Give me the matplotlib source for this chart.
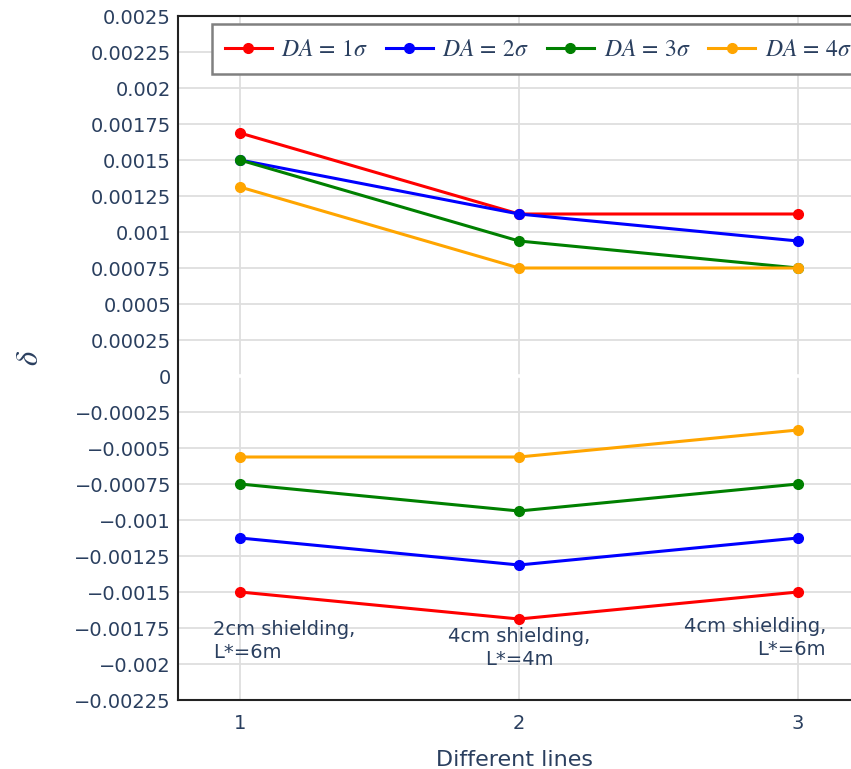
import matplotlib
matplotlib.use("Agg")
import matplotlib.pyplot as plt
from matplotlib.ticker import FixedLocator, FixedFormatter

plt.rcParams["mathtext.fontset"] = "stix"
plt.rcParams["font.family"] = ["DejaVu Sans"]

# line index on the x axis
lines_x = [1, 2, 3]

# delta bounds (upper / lower branch) for each dynamic aperture
da_labels = [r"$DA\,=\,1\sigma$", r"$DA\,=\,2\sigma$", r"$DA\,=\,3\sigma$", r"$DA\,=\,4\sigma$"]
da_colors = ["#ff0000", "#0000ff", "#008000", "#ffa500"]

upper_1 = [0.0016875, 0.001125, 0.001125]
upper_2 = [0.0015, 0.001125, 0.0009375]
upper_3 = [0.0015, 0.0009375, 0.00075]
upper_4 = [0.0013125, 0.00075, 0.00075]

lower_1 = [-0.0015, -0.0016875, -0.0015]
lower_2 = [-0.001125, -0.0013125, -0.001125]
lower_3 = [-0.00075, -0.0009375, -0.00075]
lower_4 = [-0.0005625, -0.0005625, -0.000375]

upper = [upper_1, upper_2, upper_3, upper_4]
lower = [lower_1, lower_2, lower_3, lower_4]

y_ticks = [0.0025, 0.00225, 0.002, 0.00175, 0.0015, 0.00125, 0.001, 0.00075,
           0.0005, 0.00025, 0.0, -0.00025, -0.0005, -0.00075, -0.001,
           -0.00125, -0.0015, -0.00175, -0.002, -0.00225]
y_tick_labels = ["0.0025", "0.00225", "0.002", "0.00175", "0.0015", "0.00125",
                 "0.001", "0.00075", "0.0005", "0.00025", "0",
                 "\u22120.00025", "\u22120.0005", "\u22120.00075", "\u22120.001",
                 "\u22120.00125", "\u22120.0015", "\u22120.00175", "\u22120.002",
                 "\u22120.00225"]

line_notes = ["2cm shielding,\nL*=6m", "4cm shielding,\nL*=4m", "4cm shielding,\nL*=6m"]

text_color = "#2a3f5f"
grid_color = "#dedede"

fig = plt.figure(figsize=(8.51, 7.69), dpi=100)
ax = fig.add_axes([178 / 851, 69 / 769, 1 - 178 / 851, (700 - 16) / 769])

for lab, col, up, lo in zip(da_labels, da_colors, upper, lower):
    ax.plot(lines_x, up, color=col, lw=2.2, marker="o", ms=7, label=lab, zorder=3,
            solid_joinstyle="round")
    ax.plot(lines_x, lo, color=col, lw=2.2, marker="o", ms=7, zorder=3,
            solid_joinstyle="round")

ax.set_xlim(0.778, 3.19)
ax.set_ylim(-0.00225, 0.0025)

ax.xaxis.set_major_locator(FixedLocator(lines_x))
ax.set_xticklabels([str(v) for v in lines_x])
ax.yaxis.set_major_locator(FixedLocator(y_ticks))
ax.yaxis.set_major_formatter(FixedFormatter(y_tick_labels))

ax.grid(True, color=grid_color, lw=1.3, zorder=0)
ax.set_axisbelow(True)
ax.axhline(0, color="white", lw=2.6, zorder=1)

ax.tick_params(axis="both", length=0, labelsize=14, labelcolor=text_color)
ax.tick_params(axis="y", pad=5)
ax.tick_params(axis="x", pad=10)

for side in ["left", "bottom", "top"]:
    ax.spines[side].set_color("#222222")
    ax.spines[side].set_linewidth(1.5)
ax.spines["right"].set_visible(False)

ax.set_xlabel("Different lines", fontsize=16, color=text_color, labelpad=12)
ax.set_ylabel(r"$\delta$", fontsize=22, color=text_color, labelpad=22)

# descriptive notes under each line
ax.text(0.903, -0.00184, line_notes[0], ha="left", va="center", ma="left",
        fontsize=14, color=text_color, linespacing=1.25)
ax.text(2.0, -0.00189, line_notes[1], ha="center", va="center", ma="center",
        fontsize=14, color=text_color, linespacing=1.25)
ax.text(3.10, -0.00182, line_notes[2], ha="right", va="center", ma="right",
        fontsize=14, color=text_color, linespacing=1.25)

leg = ax.legend(ncol=4, loc="upper left", bbox_to_anchor=(0.050, 0.988),
                borderaxespad=0, fancybox=False, framealpha=1,
                edgecolor="#808080", prop={"size": 17},
                handlelength=2.0, handletextpad=0.4, columnspacing=0.75,
                borderpad=0.55, labelcolor=text_color)
leg.get_frame().set_linewidth(1.8)

fig.savefig("out.png", dpi=100)
